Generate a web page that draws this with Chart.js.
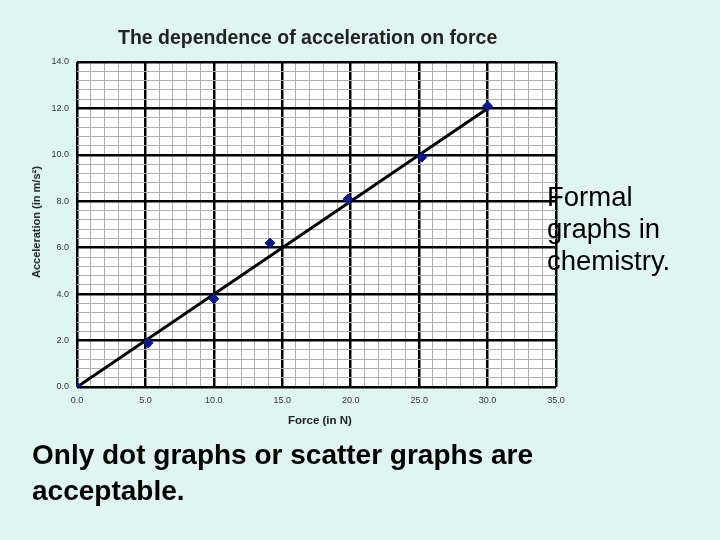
<!DOCTYPE html>
<html><head><meta charset="utf-8">
<script src="https://cdn.jsdelivr.net/npm/chart.js@4"></script>
<style>
body{margin:0;background:#dff5f1;font-family:"Liberation Sans",Arial,sans-serif;}
#wrap{position:relative;width:720px;height:540px;}
canvas{position:absolute;left:0;top:0;}
.t{position:absolute;color:#000;white-space:nowrap;}
</style></head><body>
<div id="wrap">
<canvas id="c" width="720" height="540"></canvas>
<div class="t" style="left:118px;top:26px;font-size:19.5px;font-weight:bold;color:#222">The dependence of acceleration on force</div>
<div class="t" style="left:288px;top:414px;font-size:11.5px;font-weight:bold;color:#222">Force (in N)</div>
<div class="t" style="left:36px;top:222px;font-size:11px;font-weight:bold;color:#222;transform:translate(-50%,-50%) rotate(-90deg)">Acceleration (in m/s²)</div>
<div class="t" style="left:547px;top:181px;font-size:27.5px;line-height:32px">Formal<br>graphs in<br>chemistry.</div>
<div class="t" style="left:32px;top:437px;font-size:28px;line-height:36px;font-weight:bold">Only dot graphs or scatter graphs are<br>acceptable.</div>
</div>
<script>
const forceN = [0, 5.2, 10, 14.1, 19.8, 25.2, 30];
const accel = [0, 1.9, 3.8, 6.2, 8.1, 9.9, 12.1];
const fitX = [0, 30];
const fitY = [0, 12];
const near = (v, m) => Math.abs(v / m - Math.round(v / m)) < 1e-6;
const bg = {id:'bg', beforeDraw(ch){const a=ch.chartArea,c=ch.ctx;c.save();c.fillStyle='#fff';c.fillRect(a.left,a.top,a.right-a.left,a.bottom-a.top);c.restore();}};
new Chart(document.getElementById('c'), {
  type: 'scatter',
  data: { datasets: [
    { data: fitX.map((x,i)=>({x, y: fitY[i]})), showLine: true, borderColor:'#000', borderWidth:3, pointRadius:0, order:2 },
    { data: forceN.map((x,i)=>({x, y: accel[i]})), pointStyle:'rectRot', pointRadius:5, backgroundColor:'#0a1a8c', borderColor:'#0a1a8c', order:1 }
  ]},
  options: {
    animation:false, responsive:false,
    plugins:{legend:{display:false}, tooltip:{enabled:false}},
    layout:{padding:{top:62,right:164,left:0,bottom:0}},
    scales:{
      x:{min:0,max:35,ticks:{stepSize:1,autoSkip:false,maxRotation:0,padding:8,color:'#333',font:{size:9,family:'Liberation Sans'},callback:v=>near(v,5)?v.toFixed(1):''},
        grid:{color:c=>near(c.tick.value,5)?'#000':'#b0b0b0',lineWidth:c=>near(c.tick.value,5)?2.5:1,drawTicks:false},border:{display:false},
        afterFit(s){s.height=153;}},
      y:{min:0,max:14,ticks:{stepSize:0.4,autoSkip:false,color:'#333',font:{size:9,family:'Liberation Sans'},padding:8,callback:v=>near(v,2)?v.toFixed(1):''},
        grid:{color:c=>near(c.tick.value,2)?'#000':'#b0b0b0',lineWidth:c=>near(c.tick.value,2)?2.5:1,drawTicks:false},border:{display:false},
        afterFit(s){s.width=77;}}
    }
  },
  plugins:[bg]
});
</script></body></html>
